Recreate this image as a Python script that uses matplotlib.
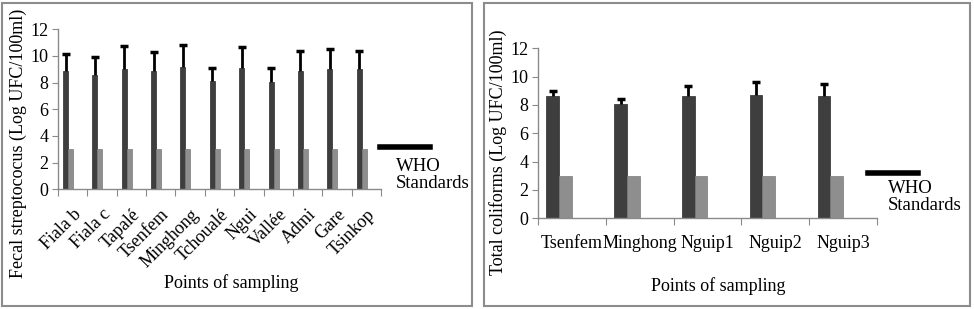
import numpy as np
import matplotlib
matplotlib.use("Agg")
import matplotlib.pyplot as plt
from matplotlib.patches import Rectangle
from matplotlib.lines import Line2D

# left panel: fecal streptococci
fs_sites = ["Fiala b", "Fiala c", "Tapalé", "Tsenfem", "Minghong", "Tchoualé",
            "Ngui", "Vallée", "Admi", "Gare", "Tsinkop"]
fs_values = [8.9, 8.6, 9.0, 8.9, 9.2, 8.1, 9.1, 8.05, 8.9, 9.05, 9.05]
fs_upper = [10.15, 9.9, 10.75, 10.3, 10.8, 9.1, 10.65, 9.1, 10.35, 10.5, 10.35]
fs_who = [3] * len(fs_sites)

# right panel: total coliforms
tc_sites = ["Tsenfem", "Minghong", "Nguip1", "Nguip2", "Nguip3"]
tc_values = [8.65, 8.05, 8.65, 8.7, 8.65]
tc_upper = [9.0, 8.4, 9.35, 9.6, 9.5]
tc_who = [3] * len(tc_sites)

plt.rcParams['font.family'] = ['Liberation Serif', 'DejaVu Serif']

W, H = 974, 309
fig = plt.figure(figsize=(W / 100, H / 100), dpi=100)
fig.patch.set_facecolor('white')

DARK = '#3e3e3e'
LIGHT = '#8e8e8e'
AXC = '#8a8a8a'
FS = 13


def px_axes(x0, x1, ytop, ybot):
    return fig.add_axes([x0 / W, (H - ybot) / H, (x1 - x0) / W, (ybot - ytop) / H])


def draw_panel(ax, sites, values, upper, who, off_dark, off_light, width, rot, ax_px):
    x = np.arange(len(sites))
    xd = x + off_dark
    ax.bar(xd, values, width, color=DARK, edgecolor='#2a2a2a', linewidth=0.5, zorder=2)
    ax.bar(x + off_light, who, width, color=LIGHT, edgecolor='#7a7a7a', linewidth=0.5, zorder=2)
    # upper error bars only, caps about 8 px wide
    ax.vlines(xd, values, upper, color='black', linewidth=2, zorder=3)
    cw = 4.0 / (ax_px / len(sites))
    ax.hlines(upper, xd - cw, xd + cw, color='black', linewidth=2.5, zorder=3)
    ax.set_xlim(-0.5, len(sites) - 0.5)
    ax.set_ylim(0, 12)
    ax.set_yticks(range(0, 13, 2))
    ax.set_xticks(np.arange(len(sites) + 1) - 0.5, minor=False)
    ax.set_xticklabels([])
    ax.set_xticks(x, minor=True)
    if rot:
        ax.set_xticklabels(sites, minor=True, rotation=45, ha='right',
                           rotation_mode='anchor', fontsize=FS)
    else:
        ax.set_xticklabels(sites, minor=True, fontsize=FS)
    ax.tick_params(axis='x', which='minor', length=0, pad=12)
    ax.tick_params(axis='x', which='major', length=5, color=AXC)
    ax.tick_params(axis='y', length=4, color=AXC, labelsize=FS, pad=3)
    for s in ['top', 'right']:
        ax.spines[s].set_visible(False)
    for s in ['left', 'bottom']:
        ax.spines[s].set_color(AXC)
        ax.spines[s].set_linewidth(1)


# panel frames
fig.add_artist(Rectangle((2 / W, 3 / H), 470 / W, 303 / H, transform=fig.transFigure,
                         fill=False, edgecolor='#8c8c8c', linewidth=1.5))
fig.add_artist(Rectangle((484 / W, 3 / H), 486 / W, 303 / H, transform=fig.transFigure,
                         fill=False, edgecolor='#8c8c8c', linewidth=1.5))

ax1 = px_axes(58, 381, 29.3, 189.3)
draw_panel(ax1, fs_sites, fs_values, fs_upper, fs_who, -0.244, -0.074, 0.17, True, 323)
fig.text(18 / W, 1 - 143 / H, "Fecal streptococus (Log UFC/100ml)", rotation=90,
         ha='center', va='center', fontsize=FS)
fig.text(231 / W, 1 - 283 / H, "Points of sampling", ha='center', va='center', fontsize=FS)
fig.add_artist(Line2D([380 / W, 430 / W], [1 - 147 / H] * 2, color='black', linewidth=4))
fig.text(396 / W, 1 - 175 / H, "WHO\nStandards", ha='left', va='center',
         fontsize=13.5, linespacing=1.05)

ax2 = px_axes(538, 877, 48.3, 218.3)
draw_panel(ax2, tc_sites, tc_values, tc_upper, tc_who, -0.283, -0.096, 0.187, False, 339)
fig.text(498 / W, 1 - 152 / H, "Total coliforms (Log UFC/100ml)", rotation=90,
         ha='center', va='center', fontsize=FS)
fig.text(718 / W, 1 - 286 / H, "Points of sampling", ha='center', va='center', fontsize=FS)
fig.add_artist(Line2D([868 / W, 918 / W], [1 - 173 / H] * 2, color='black', linewidth=4))
fig.text(888 / W, 1 - 197 / H, "WHO\nStandards", ha='left', va='center',
         fontsize=13.5, linespacing=1.05)

fig.savefig("out.png", dpi=100)
